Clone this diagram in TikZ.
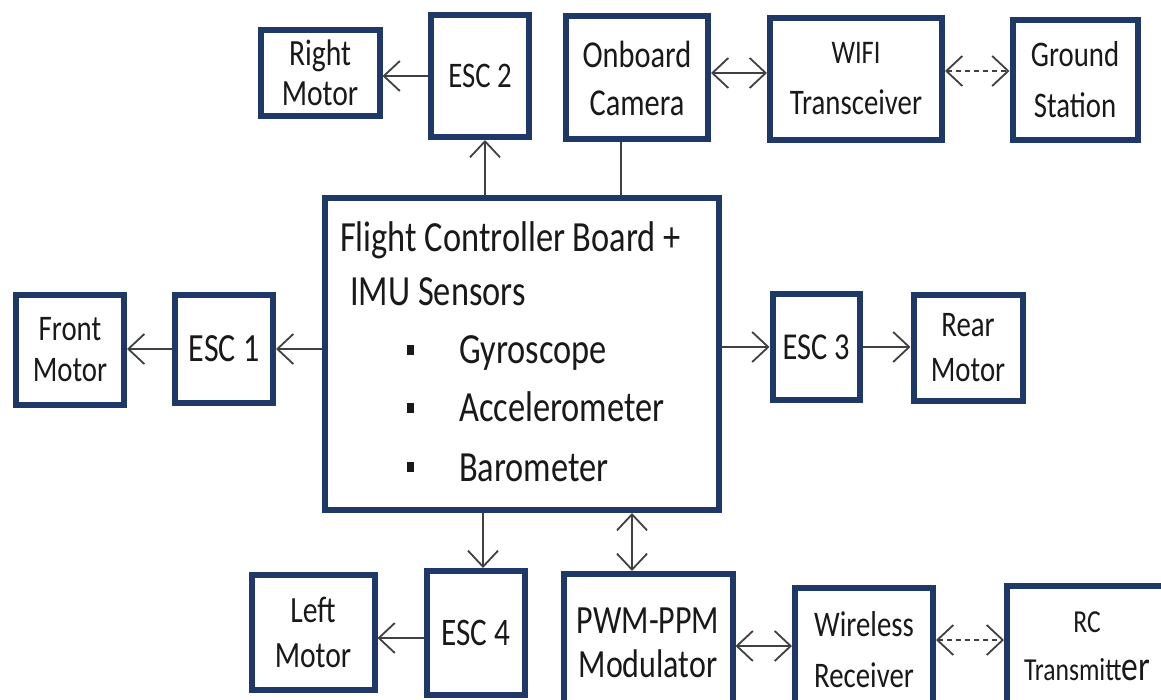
\documentclass[tikz,border=0pt]{standalone}
\usepackage{fontspec}
\setmainfont{Carlito}[FakeStretch=0.8]
\usetikzlibrary{arrows.meta}
\definecolor{boxblue}{RGB}{30,56,104}
\definecolor{ink}{RGB}{25,25,25}

\begin{document}
\begin{tikzpicture}%
	[x=1pt, y=-1pt,
	block/.style={draw=boxblue, line width=6pt, fill=white, inner sep=0pt, align=center, text=ink},
	link/.style={draw=black!75, line width=1.8pt},
	oneway/.style={link, -{Straight Barb[length=16pt,width=30pt]}},
	twoway/.style={link, {Straight Barb[length=16pt,width=30pt]}-{Straight Barb[length=16pt,width=30pt]}},
	radio/.style={twoway, dash pattern=on 5pt off 4pt},
	item/.style={anchor=base west, inner sep=0pt, text=ink, font=\fontsize{43}{48}\selectfont},
	bullet/.style={fill=ink, minimum width=7pt, minimum height=10pt, inner sep=0pt}]
%
\useasboundingbox (0,0) rectangle (1161,700);
\clip (0,0) rectangle (1161,700);
%%
%% Top row
%%
\node[block, minimum width=119pt, minimum height=86pt, font=\fontsize{37}{40}\selectfont] (rmotor) at (320,73) {Right\\Motor};
\node[block, minimum width=98pt, minimum height=122pt, font=\fontsize{36}{40}\selectfont] (esc2) at (480,76) {ESC 2};
\node[block, minimum width=142pt, minimum height=123pt, font=\fontsize{38}{48}\selectfont] (camera) at (637,78) {Onboard\\Camera};
\node[block, minimum width=172pt, minimum height=122pt, font=\fontsize{36}{51}\selectfont] (wifi) at (856,79) {{\fontsize{33}{51}\selectfont WIFI}\\Transceiver};
\node[block, minimum width=125pt, minimum height=120pt, font=\fontsize{36}{51}\selectfont] (ground) at (1075,80) {Ground\\Station};
%%
%% Middle row
%%
\node[block, minimum width=394pt, minimum height=312pt] (fcb) at (522,354) {};
\node[block, minimum width=108pt, minimum height=109pt, font=\fontsize{36}{41}\selectfont] (fmotor) at (70,350) {Front\\Motor};
\node[block, minimum width=98pt, minimum height=107pt, font=\fontsize{40}{40}\selectfont] (esc1) at (224,349) {ESC 1};
\node[block, minimum width=87pt, minimum height=106pt, font=\fontsize{38}{40}\selectfont] (esc3) at (816,347) {ESC 3};
\node[block, minimum width=109pt, minimum height=106pt, font=\fontsize{36}{45}\selectfont] (rearm) at (968,348) {Rear\\Motor};
%% text of the board
\node[item] (title) at (340,252) {Flight Controller Board +};
\node[item] (imu) at (350,306) {IMU Sensors};
\node[bullet] (b1) at (410,350) {};
\node[bullet] (b2) at (410,408) {};
\node[bullet] (b3) at (410,467) {};
\node[item] (gyro) at (459,363) {Gyroscope};
\node[item] (accel) at (459,421) {Accelerometer};
\node[item] (baro) at (459,481) {Barometer};
%%
%% Bottom row
%%
\node[block, minimum width=123pt, minimum height=115pt, font=\fontsize{37}{45}\selectfont] (lmotor) at (313,632) {Left\\Motor};
\node[block, minimum width=98pt, minimum height=124pt, font=\fontsize{39}{40}\selectfont] (esc4) at (476,633) {ESC 4};
\node[block, minimum width=169pt, minimum height=138pt, font=\fontsize{40}{44}\selectfont] (pwm) at (648,643) {PWM-PPM\\Modulator};
\node[block, minimum width=138pt, minimum height=124pt, font=\fontsize{36}{51}\selectfont] (wireless) at (864,650) {Wireless\\Receiver};
\node[block, minimum width=160pt, minimum height=120pt, font=\fontsize{32}{48}\selectfont] (rc) at (1087,646) {RC\\Transmitt{\fontsize{42}{48}\selectfont er}};
%%
%% Connections
%%
\draw[oneway] (esc2.west) -- (rmotor.east |- esc2.west);
\draw[oneway] ([xshift=5pt]esc2.south |- fcb.north) -- ([xshift=5pt]esc2.south);
\draw[link] ([xshift=-16pt]camera.south) -- ([xshift=-16pt]camera.south |- fcb.north);
\draw[twoway] ([yshift=5pt]camera.east) -- ([yshift=5pt]camera.east -| wifi.west);
\draw[radio] ([yshift=8pt]wifi.east) -- ([yshift=8pt]wifi.east -| ground.west);
\draw[oneway] (fcb.west |- esc1.east) -- (esc1.east);
\draw[oneway] (esc1.west) -- (fmotor.east |- esc1.west);
\draw[oneway] (fcb.east |- esc3.west) -- (esc3.west);
\draw[oneway] (esc3.east) -- (rearm.west |- esc3.east);
\draw[oneway] ([xshift=7pt]esc4.north |- fcb.south) -- ([xshift=7pt]esc4.north);
\draw[oneway] ([yshift=-5pt]esc4.west) -- ([yshift=-5pt]esc4.west -| lmotor.east);
\draw[twoway] ([xshift=-16pt]pwm.north |- fcb.south) -- ([xshift=-16pt]pwm.north);
\draw[twoway] ([yshift=-3pt]pwm.east) -- ([yshift=-3pt]pwm.east -| wireless.west);
\draw[radio] ([yshift=10pt]wireless.east) -- ([yshift=10pt]wireless.east -| rc.west);
\end{tikzpicture}
\end{document}
